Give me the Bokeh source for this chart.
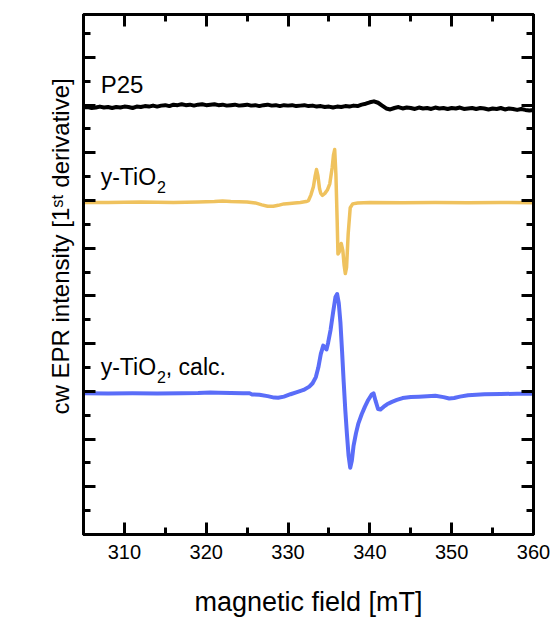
import numpy as np
from bokeh.plotting import figure
from bokeh.models import Label, LinearAxis, SingleIntervalTicker, Range1d, CustomJSTickFormatter, Title
from bokeh.embed import file_html
from bokeh.resources import INLINE

# ---------------- data ----------------
field_p25 = [305.0, 305.5, 306.0, 306.5, 307.0, 307.5, 308.0, 308.5, 309.0, 309.5,
             310.0, 310.5, 311.0, 311.5, 312.0, 312.5, 313.0, 313.5, 314.0, 314.5,
             315.0, 315.5, 316.0, 316.5, 317.0, 317.5, 318.0, 318.5, 319.0, 319.5,
             320.0, 320.5, 321.0, 321.5, 322.0, 322.5, 323.0, 323.5, 324.0, 324.5,
             325.0, 325.5, 326.0, 326.5, 327.0, 327.5, 328.0, 328.5, 329.0, 329.5,
             330.0, 330.5, 331.0, 331.5, 332.0, 332.5, 333.0, 333.5, 334.0, 334.5,
             335.0, 335.5, 336.0, 336.5, 337.0, 337.5, 338.0, 338.5, 339.0, 339.5,
             340.0, 340.5, 341.0, 341.5, 342.0, 342.5, 343.0, 343.5, 344.0, 344.5,
             345.0, 345.5, 346.0, 346.5, 347.0, 347.5, 348.0, 348.5, 349.0, 349.5,
             350.0, 350.5, 351.0, 351.5, 352.0, 352.5, 353.0, 353.5, 354.0, 354.5,
             355.0, 355.5, 356.0, 356.5, 357.0, 357.5, 358.0, 358.5, 359.0, 359.5, 360.0]
signal_p25 = [8.95, 8.96, 8.94, 8.95, 8.97, 8.95, 8.96, 8.94, 8.96, 8.95,
              8.97, 8.96, 8.94, 8.97, 8.96, 8.98, 8.97, 8.99, 8.97, 8.99,
              9.00, 8.98, 9.01, 9.00, 9.02, 9.00, 9.01, 8.99, 9.01, 9.02,
              9.00, 9.01, 9.02, 9.00, 9.01, 8.99, 9.00, 9.01, 8.99, 9.00,
              9.01, 8.99, 9.00, 8.98, 9.00, 9.01, 8.99, 9.00, 8.98, 9.00,
              8.99, 9.00, 8.98, 8.99, 9.00, 8.98, 8.99, 8.97, 8.98, 8.96,
              8.97, 8.95, 8.97, 8.96, 8.98, 8.97, 8.99, 8.98, 9.01, 9.03,
              9.06, 9.08, 9.05, 8.99, 8.93, 8.91, 8.94, 8.96, 8.93, 8.95,
              8.94, 8.92, 8.95, 8.93, 8.94, 8.92, 8.95, 8.93, 8.94, 8.92,
              8.94, 8.93, 8.95, 8.92, 8.93, 8.94, 8.92, 8.94, 8.93, 8.91,
              8.93, 8.92, 8.94, 8.91, 8.93, 8.92, 8.90, 8.92, 8.90, 8.89, 8.90]

field_ytio2 = [305.0, 308.0, 312.0, 316.0, 319.0, 321.0, 322.0, 323.0, 325.0, 326.0,
               326.8, 327.5, 328.2, 328.8, 329.5, 330.2, 330.8, 331.5, 332.2, 332.5,
               332.8, 333.1, 333.3, 333.48, 333.65, 333.85, 334.0, 334.2, 334.5, 334.8,
               335.1, 335.4, 335.55, 335.7, 335.85, 336.0, 336.1, 336.25, 336.5, 336.7,
               336.85, 337.0, 337.15, 337.35, 337.6, 337.9, 338.5, 340.0, 344.0, 348.0,
               352.0, 356.0, 360.0]
signal_ytio2 = [6.96, 6.96, 6.97, 6.96, 6.97, 6.98, 6.99, 6.98, 6.97, 6.95,
                6.91, 6.88, 6.88, 6.90, 6.93, 6.94, 6.95, 6.96, 6.98, 7.00,
                7.12, 7.29, 7.50, 7.65, 7.52, 7.25, 7.15, 7.11, 7.15, 7.22,
                7.35, 7.70, 7.95, 8.07, 7.55, 6.60, 5.88, 5.92, 6.10, 5.95,
                5.65, 5.47, 5.60, 6.30, 6.85, 6.93, 6.95, 6.96, 6.955, 6.96,
                6.955, 6.96, 6.955]

field_calc = [305.0, 308.0, 311.0, 314.0, 317.0, 319.0, 320.5, 321.5, 323.0, 324.5,
              325.3, 325.6, 326.5, 327.5, 328.3, 328.8, 329.5, 330.3, 331.0, 331.9,
              332.6, 333.0, 333.4, 333.7, 334.0, 334.3, 334.5, 334.7, 334.9, 335.2,
              335.5, 335.8, 336.0, 336.2, 336.4, 336.6, 336.8, 337.0, 337.2, 337.4,
              337.6, 337.8, 338.0, 338.3, 338.6, 339.0, 339.4, 339.8, 340.2, 340.45,
              340.7, 341.0, 341.3, 341.7, 342.1, 342.7, 343.3, 344.0, 345.0, 346.0,
              347.0, 348.0, 349.0, 349.7, 350.3, 351.0, 352.0, 354.0, 356.0, 358.0, 360.0]
signal_calc = [2.96, 2.955, 2.96, 2.955, 2.96, 2.965, 2.975, 2.97, 2.965, 2.96,
               2.96, 2.935, 2.93, 2.90, 2.87, 2.865, 2.89, 2.94, 2.98, 3.03,
               3.10, 3.17, 3.30, 3.50, 3.78, 3.96, 3.92, 3.88, 4.02, 4.29,
               4.65, 4.98, 5.04, 4.85, 4.45, 3.85, 3.20, 2.60, 2.10, 1.65,
               1.40, 1.55, 1.85, 2.12, 2.33, 2.52, 2.68, 2.82, 2.93, 2.96,
               2.80, 2.63, 2.62, 2.68, 2.73, 2.78, 2.82, 2.86, 2.88, 2.89,
               2.90, 2.91, 2.88, 2.85, 2.86, 2.89, 2.92, 2.94, 2.945, 2.95, 2.95]

x_title = "magnetic field [mT]"
y_title = "cw EPR intensity [1\u02e2\u1d57 derivative]"

FONT = "Liberation Sans"
YELLOW = "#EFC25E"
BLUE = "#5A6DF8"

# ---------------- figure ----------------
p = figure(width=552, height=619, output_backend="svg", toolbar_location=None,
           x_range=Range1d(305, 360), y_range=Range1d(0, 10.9),
           x_axis_location=None, y_axis_location=None,
           min_border_left=83, min_border_right=19, min_border_top=14, min_border_bottom=84)
p.grid.visible = False
p.outline_line_color = "black"
p.outline_line_width = 3
p.background_fill_color = "white"
p.border_fill_color = "white"

blank = CustomJSTickFormatter(code="return ''")


def style_axis(ax, labels, standoff=0):
    ax.axis_line_width = 3
    ax.axis_line_color = "black"
    ax.major_tick_in = 12
    ax.major_tick_out = 0
    ax.minor_tick_in = 7
    ax.minor_tick_out = 0
    ax.major_tick_line_width = 3
    ax.minor_tick_line_width = 3
    ax.major_tick_line_color = "black"
    ax.minor_tick_line_color = "black"
    if labels:
        ax.major_label_text_font = FONT
        ax.major_label_text_font_size = "20px"
        ax.major_label_text_color = "black"
        ax.major_label_standoff = 10
    else:
        ax.formatter = blank
        ax.major_label_text_color = "white" if standoff else None
        ax.major_label_standoff = standoff


for loc in ["below", "above"]:
    ax = LinearAxis(ticker=SingleIntervalTicker(interval=10, num_minor_ticks=2))
    style_axis(ax, loc == "below")
    if loc == "below":
        ax.axis_label = x_title
        ax.axis_label_text_font = FONT
        ax.axis_label_text_font_size = "27px"
        ax.axis_label_text_font_style = "normal"
        ax.axis_label_text_color = "black"
        ax.axis_label_standoff = 25
    p.add_layout(ax, loc)
for loc in ["left", "right"]:
    ax = LinearAxis(ticker=SingleIntervalTicker(interval=1, num_minor_ticks=2))
    style_axis(ax, False, 28 if loc == "left" else 0)
    p.add_layout(ax, loc)

ytitle = Title(text=y_title, align="left", offset=120, standoff=20,
               text_font=FONT, text_font_size="24px", text_font_style="normal",
               text_color="black")
p.add_layout(ytitle, "left")

p.line(field_p25, signal_p25, line_color="black", line_width=4, line_join="round")
p.line(field_ytio2, signal_ytio2, line_color=YELLOW, line_width=3.5, line_join="round")
p.line(field_calc, signal_calc, line_color=BLUE, line_width=4, line_join="round")


def lab(x, y, t, size):
    p.add_layout(Label(x=x, y=y, text=t, text_font=FONT, text_font_size=size,
                       text_color="black", text_baseline="middle", text_align="left"))


lab(307.1, 9.44, "P25", "24px")
lab(307.1, 7.49, "y-TiO", "23px")
lab(313.97, 7.28, "2", "16px")
lab(307.1, 3.52, "y-TiO", "23px")
lab(313.97, 3.31, "2", "16px")
lab(315.06, 3.52, ", calc.", "23px")

open("out.html", "w").write(file_html(p, INLINE))
